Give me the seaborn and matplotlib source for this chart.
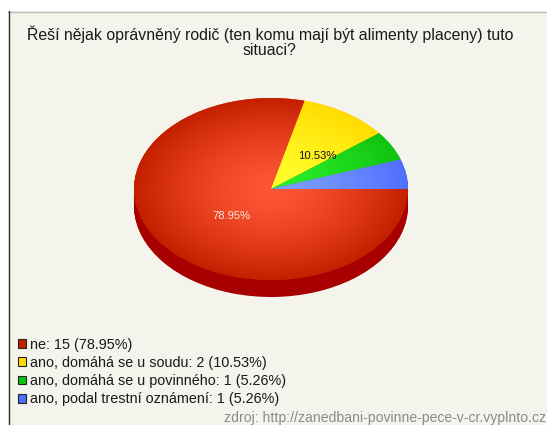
import numpy as np
import matplotlib
matplotlib.use("Agg")
import matplotlib.pyplot as plt
from matplotlib.lines import Line2D
from matplotlib.patches import Rectangle
import seaborn as sns

title = "Řeší nějak oprávněný rodič (ten komu mají být alimenty placeny) tuto\nsituaci?"
source = "zdroj: http://zanedbani-povinne-pece-v-cr.vyplnto.cz"

answers = ["ne", "ano, domáhá se u soudu", "ano, domáhá se u povinného", "ano, podal trestní oznámení"]
counts = [15, 2, 1, 1]
percents = ["78.95%", "10.53%", "5.26%", "5.26%"]

# centre colour, rim colour of every slice
inner_colors = ["#FF5735", "#FFFF2E", "#2CEE2C", "#7D9FFF"]
outer_colors = ["#C42000", "#FFDC00", "#0FC40F", "#4F6FFF"]
side_color = "#A80000"

W, H = 547, 425

sns.set_theme(style="white")
plt.rcParams["font.family"] = ["Liberation Sans", "DejaVu Sans"]

fig = plt.figure(figsize=(W / 100, H / 100), dpi=100, facecolor="white")

# paper background and the two frame lines
fig.add_artist(Rectangle((8 / W, 0), 1, 1 - 11 / H, transform=fig.transFigure,
                         facecolor="#F4F4EC", edgecolor="none", zorder=-2))
fig.add_artist(Line2D([8 / W, 1], [1 - 11.5 / H] * 2, color="#BDBDB5", lw=1, zorder=-1))
fig.add_artist(Line2D([8.5 / W] * 2, [0, 1 - 11 / H], color="#333333", lw=1, zorder=-1))

fig.text(270 / W, 1 - 25.5 / H, title, ha="center", va="top", fontsize=11.45,
         color="#1A1A1A", linespacing=0.98)

# one unit of data is 137 px across and 91 px down, plus 17 px of side
depth = 17 / 91
ax = fig.add_axes([134 / W, 1 - 297 / H, 274 / W, 199 / H])
ax.patch.set_alpha(0)

# extruded side
for off in np.linspace(depth, 0.01, 18):
    ax.pie(counts, colors=[side_color] * 4, startangle=0, counterclock=False,
           center=(0, -off), radius=1, wedgeprops={"linewidth": 0})

wedges, _ = ax.pie(counts, colors=outer_colors, startangle=0, counterclock=False,
                   center=(0, 0), radius=1, wedgeprops={"linewidth": 0})

gx, gy = np.meshgrid(np.linspace(-1, 1, 400), np.linspace(-1, 1, 400))
dist = np.clip(np.hypot(gx, gy), 0, 1) ** 1.4
for wedge, c_in, c_out in zip(wedges, inner_colors, outer_colors):
    cmap = sns.blend_palette([c_in, c_out], as_cmap=True)
    im = ax.imshow(dist, cmap=cmap, vmin=0, vmax=1, extent=(-1, 1, -1, 1),
                   origin="lower", aspect="auto", zorder=wedge.get_zorder() + 0.5)
    im.set_clip_path(wedge)

ax.set_aspect("auto")
ax.set_xlim(-1, 1)
ax.set_ylim(-1 - depth, 1)
ax.axis("off")

ax.text(-0.285, -0.297, percents[0], color="#FFE4DC", fontsize=8.1,
        ha="center", va="center", zorder=10)
ax.text(0.336, 0.363, percents[1], color="#111111", fontsize=8.1,
        ha="center", va="center", zorder=10)

handles = [Rectangle((0, 0), 1, 1, facecolor=c, edgecolor="#222222", lw=0.8)
           for c in outer_colors]
labels = [f"{a}: {n} ({p})" for a, n, p in zip(answers, counts, percents)]
fig.legend(handles, labels, loc="lower left", bbox_to_anchor=(18 / W, 1 - 406.5 / H),
           frameon=False, fontsize=10.35, handlelength=0.55, handleheight=0.55,
           handletextpad=0.3, labelspacing=0.3, borderpad=0, borderaxespad=0,
           labelcolor="#1A1A1A")

fig.text(546 / W, 1 - 422 / H, source, ha="right", va="baseline", fontsize=10.05,
         color="#8A8A8A")

fig.savefig("out.png", dpi=100, facecolor=fig.get_facecolor())
